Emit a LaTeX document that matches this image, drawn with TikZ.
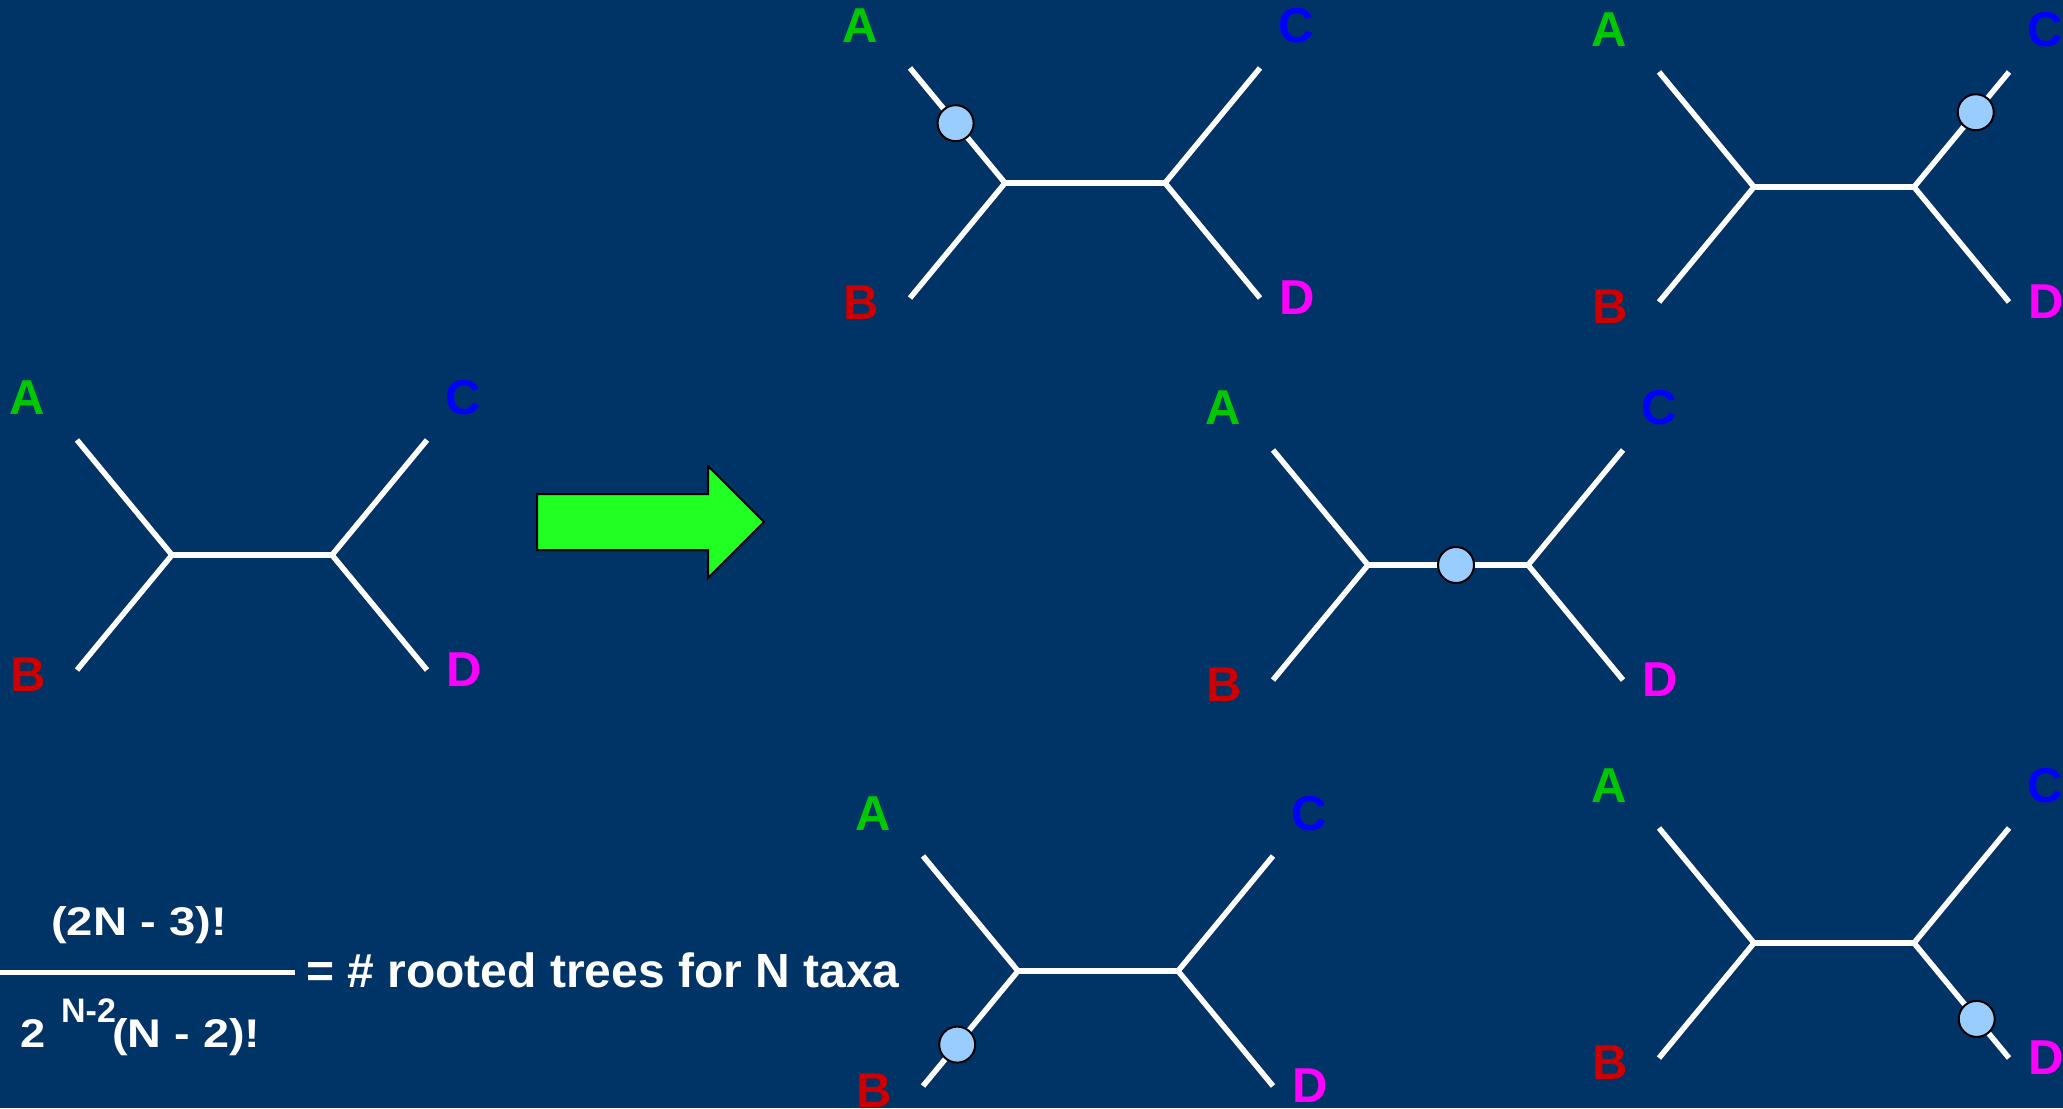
\documentclass[tikz,border=0pt]{standalone}
\usepackage{fontspec}
\setmainfont{Liberation Sans}
\usetikzlibrary{calc}
\definecolor{bgblue}{RGB}{0,51,102}
\definecolor{labA}{RGB}{0,200,0}
\definecolor{labB}{RGB}{204,0,0}
\definecolor{labC}{RGB}{0,0,255}
\definecolor{labD}{RGB}{255,0,255}
\definecolor{dotblue}{RGB}{153,204,255}
\definecolor{arrowgreen}{RGB}{34,255,34}
\tikzset{
  edge/.style={draw=white, line width=5.5pt, line cap=butt, line join=miter},
  lab/.style={inner sep=0pt, font=\fontsize{49}{58}\selectfont\bfseries},
  dot/.style={circle, draw=black, line width=2pt, fill=dotblue, minimum size=36pt, inner sep=0pt},
  ftext/.style={inner sep=0pt, text=white, anchor=base west, font=\fontsize{40}{46}\selectfont\bfseries},
  fsup/.style={inner sep=0pt, text=white, anchor=base west, font=\fontsize{34}{40}\selectfont\bfseries},
  mtext/.style={inner sep=0pt, text=white, anchor=base west, font=\fontsize{48}{56}\selectfont\bfseries},
  bigarrow/.style={fill=arrowgreen, draw=black, line width=2pt, line join=miter}
}
\newcommand\phylotree[3]{%
  \coordinate (#1L) at (#2,#3);
  \coordinate (#1R) at ({#2+160},#3);
  \coordinate (#1A) at ($(#1L)+(-95,-115)$);
  \coordinate (#1B) at ($(#1L)+(-95,115)$);
  \coordinate (#1C) at ($(#1R)+(95,-115)$);
  \coordinate (#1D) at ($(#1R)+(95,115)$);
  \draw[edge] (#1A) -- (#1L) -- (#1B);
  \draw[edge] (#1L) -- (#1R);
  \draw[edge] (#1C) -- (#1R) -- (#1D);
  \node[lab, text=labA] (#1a) at ($(#1A)+(-50,-42)$) {A};
  \node[lab, text=labB] (#1b) at ($(#1B)+(-49,5)$) {B};
  \node[lab, text=labC] (#1c) at ($(#1C)+(36,-42)$) {C};
  \node[lab, text=labD] (#1d) at ($(#1D)+(37,0)$) {D};
}
\begin{document}
\begin{tikzpicture}[x=1pt, y=-1pt]
  \fill[bgblue] (0,0) rectangle (2063,1108);
  \useasboundingbox (0,0) rectangle (2063,1108);
  \begin{scope}
  \clip (0,0) rectangle (2063,1108);
  % trees
  \phylotree{T1}{172}{555}
  \phylotree{T2}{1005}{183}
  \phylotree{T3}{1754}{187}
  \phylotree{T4}{1368}{565}
  \phylotree{T5}{1018}{971}
  \phylotree{T6}{1754}{943}
  % insertion points
  \node[dot] (d2) at ($(T2L)!0.52!(T2A)$) {};
  \node[dot] (d3) at ($(T3R)!0.65!(T3C)$) {};
  \node[dot] (d4) at ($(T4L)!0.55!(T4R)$) {};
  \node[dot] (d5) at ($(T5L)!0.64!(T5B)$) {};
  \node[dot] (d6) at ($(T6R)!0.66!(T6D)$) {};
  % big arrow
  \draw[bigarrow] (537,494) -- (708,494) -- (708,466) -- (764,522) -- (708,578) -- (708,550) -- (537,550) -- cycle;
  % formula
  \node[ftext] (num) at (51,935) {\scalebox{1.18}[1]{(2N - 3)!}};
  \coordinate (fl) at (0,972);
  \coordinate (fr) at (295,972);
  \draw[draw=white, line width=5pt] (fl) -- (fr);
  \node[ftext] (den2) at (20,1047) {\scalebox{1.13}[1]{2}};
  \node[fsup] (dexp) at (61,1022) {N-2};
  \node[ftext] (denf) at (112,1047) {\scalebox{1.17}[1]{(N - 2)!}};
  \node[mtext] (eqtext) at (306,987) {= \# rooted trees for N taxa};
  \end{scope}
\end{tikzpicture}
\end{document}
